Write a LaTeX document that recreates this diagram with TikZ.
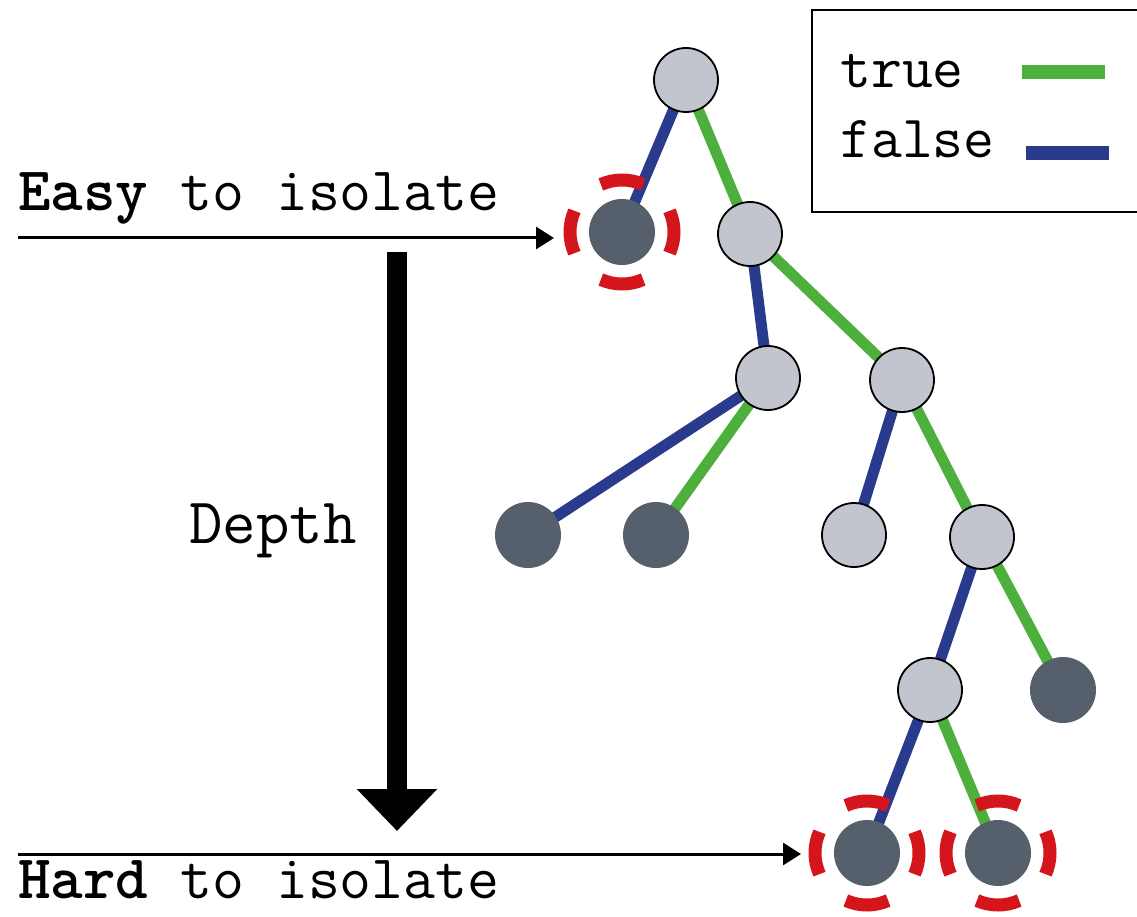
\documentclass[tikz,border=0pt]{standalone}
\usepackage{fontspec}
\usetikzlibrary{arrows.meta,backgrounds}
\definecolor{truegreen}{HTML}{4DAF3C}
\definecolor{falseblue}{HTML}{2A3A8C}
\definecolor{innergray}{HTML}{C2C4CE}
\definecolor{leafgray}{HTML}{56606D}
\definecolor{ringred}{HTML}{D4161C}
\begin{document}
\begin{tikzpicture}[x=1pt,y=-1pt,
  inner/.style={circle,draw=black,line width=1.8pt,fill=innergray,minimum size=64pt,inner sep=0pt},
  leaf/.style={circle,fill=leafgray,minimum size=66pt,inner sep=0pt},
  tedge/.style={truegreen,line width=11pt},
  fedge/.style={falseblue,line width=11pt},
  lbl/.style={font=\ttfamily\fontsize{62}{70}\selectfont,anchor=base west,inner sep=0pt},
  pointer/.style={line width=3pt,-{Triangle[length=18pt,width=22pt]}},
  ring/.style={ringred,line width=13pt}
]
\useasboundingbox (0,0) rectangle (1137,917);

% tree nodes
\node[inner] (root) at (686,80) {};
\node[leaf]  (a) at (622,232) {};
\node[inner] (b) at (750,234) {};
\node[inner] (c) at (768,378) {};
\node[inner] (d) at (902,380) {};
\node[leaf]  (e) at (528,535) {};
\node[leaf]  (f) at (656,535) {};
\node[inner] (g) at (854,535) {};
\node[inner] (h) at (982,537) {};
\node[inner] (i) at (930,690) {};
\node[leaf]  (j) at (1063,690) {};
\node[leaf]  (k) at (867,853) {};
\node[leaf]  (l) at (998,853) {};

% branches, drawn behind the nodes
\begin{pgfonlayer}{background}
  \draw[fedge] (root.center) -- (a.center);
  \draw[tedge] (root.center) -- (b.center);
  \draw[fedge] (b.center) -- (c.center);
  \draw[tedge] (b.center) -- (d.center);
  \draw[fedge] (c.center) -- (e.center);
  \draw[tedge] (c.center) -- (f.center);
  \draw[fedge] (d.center) -- (g.center);
  \draw[tedge] (d.center) -- (h.center);
  \draw[fedge] (h.center) -- (i.center);
  \draw[tedge] (h.center) -- (j.center);
  \draw[fedge] (i.center) -- (k.center);
  \draw[tedge] (i.center) -- (l.center);
\end{pgfonlayer}

% legend
\draw[line width=2pt] (812,10) rectangle (1150,212);
\node[lbl,font=\ttfamily\fontsize{60}{70}\selectfont] (ltrue) at (840,88) {true};
\node[lbl,font=\ttfamily\fontsize{60}{70}\selectfont] (lfalse) at (840,158) {false};
\draw[truegreen,line width=14pt] (1022,72) -- (1105,72);
\draw[falseblue,line width=14pt] (1026,153) -- (1109,153);

% red rings around the isolated leaves
\foreach \n in {a,k,l}{
  \foreach \ang in {0,90,180,270}{
    \draw[ring] (\n) ++(\ang-24:52) arc[start angle=\ang-24,end angle=\ang+24,radius=52];
  }
}

% labels and pointers
\node[lbl] (easy) at (18,211) {\textbf{Easy} to isolate};
\node[lbl] (hard) at (18,898) {\textbf{Hard} to isolate};
\coordinate (easyfrom) at (18,238);
\coordinate (easyto) at (554,238);
\coordinate (hardfrom) at (18,854);
\coordinate (hardto) at (801,854);
\draw[pointer] (easyfrom) -- (easyto);
\draw[pointer] (hardfrom) -- (hardto);

\coordinate (depthtop) at (397,252);
\coordinate (depthbot) at (397,831);
\draw[line width=20pt,-{Triangle[length=42pt,width=78pt]}] (depthtop) -- (depthbot);
\node[lbl,font=\ttfamily\fontsize{65}{70}\selectfont] (depth) at (189,543) {Depth};
\end{tikzpicture}
\end{document}
